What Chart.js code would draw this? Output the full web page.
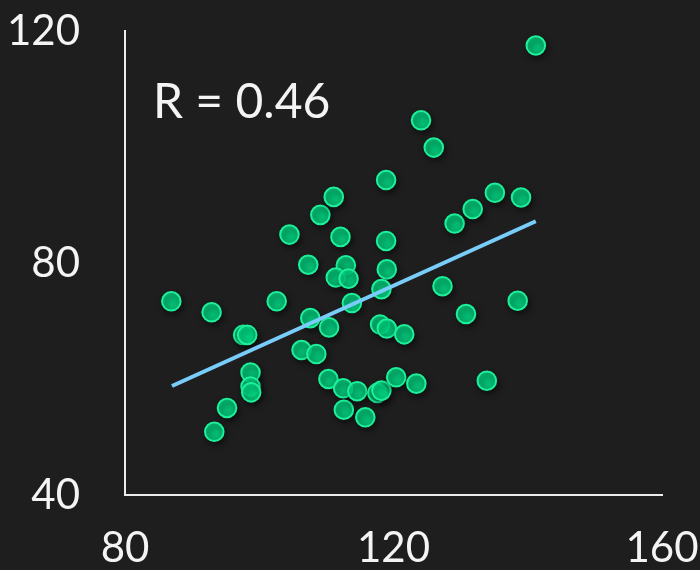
<!DOCTYPE html>
<html>
<head>
<meta charset="utf-8">
<script src="https://cdn.jsdelivr.net/npm/chart.js@4"></script>
<style>
  html, body { margin: 0; padding: 0; background: #1e1e1e; }
  #wrap { width: 700px; height: 570px; }
</style>
</head>
<body>
<div id="wrap"><canvas id="chart" width="700" height="570"></canvas></div>
<script>
// hodnoty
const xValues = [86.9, 92.9, 97.6, 98.2, 98.7, 98.7, 98.8, 95.2, 93.3, 102.6,
                 104.5, 107.3, 107.6, 106.3, 108.5, 109.1, 111.1, 110.4, 110.3, 112.1,
                 112.9, 111.4, 113.3, 113.8, 112.5, 112.6, 114.6, 115.8, 118.0, 119.0,
                 121.6, 118.9, 118.9, 119.0, 118.2, 117.6, 118.2, 120.4, 123.4, 124.1,
                 126.0, 127.3, 129.1, 130.8, 131.8, 133.9, 135.1, 138.5, 139.0, 141.2];
const yValues = [73.4, 71.5, 67.6, 67.6, 61.1, 58.7, 57.7, 55.0, 50.9, 73.4,
                 84.9, 79.7, 70.5, 65.0, 64.3, 88.3, 91.4, 68.9, 60.0, 84.5,
                 79.6, 77.5, 77.3, 73.1, 58.4, 54.7, 57.9, 53.4, 69.4, 68.7,
                 67.7, 94.3, 83.8, 78.9, 75.5, 57.6, 58.0, 60.3, 59.2, 104.6,
                 99.9, 76.0, 86.8, 71.2, 89.3, 59.7, 92.1, 73.5, 91.3, 117.5];

// regresní přímka
const trendX = [87.0, 141.2];
const trendY = [58.8, 87.2];

const xTicks = [80, 120, 160];
const yTicks = [40, 80, 120];
const rLabel = 'R = 0.46';

const FONT = 'Lato, "Open Sans", sans-serif';

const points = xValues.map((x, i) => ({ x, y: yValues[i] }));
const trend = trendX.map((x, i) => ({ x, y: trendY[i] }));

// osy bez automatického odsazení pro popisky
function fixScale(size) {
    return s => {
        if (s.isHorizontal()) s.height = size; else s.width = size;
        s.paddingTop = 0; s.paddingBottom = 0;
        s.paddingLeft = 0; s.paddingRight = 0;
    };
}

// stín pod body
const shadowPlugin = {
    id: 'pointShadow',
    beforeDatasetDraw(chart, args) {
        if (args.index !== 1) return;
        const ctx = chart.ctx;
        ctx.save();
        ctx.shadowColor = 'rgba(0,0,0,0.55)';
        ctx.shadowBlur = 6;
        ctx.shadowOffsetX = 2;
        ctx.shadowOffsetY = 3;
    },
    afterDatasetDraw(chart, args) {
        if (args.index !== 1) return;
        chart.ctx.restore();
    }
};

// popisek R
const rPlugin = {
    id: 'rText',
    afterDraw(chart) {
        const ctx = chart.ctx;
        const a = chart.chartArea;
        ctx.save();
        ctx.fillStyle = '#f4f4f4';
        ctx.font = '48px ' + FONT;
        ctx.textAlign = 'left';
        ctx.textBaseline = 'alphabetic';
        ctx.fillText(rLabel, a.left + 28, a.top + 87);
        ctx.restore();
    }
};

new Chart(document.getElementById('chart'), {
    type: 'scatter',
    data: {
        datasets: [
            {
                type: 'line',
                data: trend,
                borderColor: '#78cdfa',
                borderWidth: 4,
                pointRadius: 0,
                fill: false,
                order: 0
            },
            {
                data: points,
                backgroundColor: 'rgba(0,230,140,0.8)',
                borderColor: '#1cf09a',
                borderWidth: 2,
                pointRadius: 9.3,
                pointHoverRadius: 9.3,
                order: 1
            }
        ]
    },
    options: {
        responsive: false,
        animation: false,
        events: [],
        layout: { padding: { top: 31, right: 38, left: 0, bottom: 0 } },
        plugins: { legend: { display: false }, tooltip: { enabled: false } },
        scales: {
            x: {
                type: 'linear',
                min: xTicks[0],
                max: xTicks[xTicks.length - 1],
                afterBuildTicks: s => { s.ticks = xTicks.map(v => ({ value: v })); },
                afterFit: fixScale(75),
                grid: { display: false, drawTicks: false },
                border: { display: true, color: '#ececec', width: 2 },
                ticks: { color: '#f4f4f4', font: { family: FONT, size: 42 }, padding: 28, maxRotation: 0 }
            },
            y: {
                type: 'linear',
                min: yTicks[0],
                max: yTicks[yTicks.length - 1],
                afterBuildTicks: s => { s.ticks = yTicks.map(v => ({ value: v })); },
                afterFit: fixScale(125),
                grid: { display: false, drawTicks: false },
                border: { display: true, color: '#ececec', width: 2 },
                ticks: { color: '#f4f4f4', font: { family: FONT, size: 42 }, padding: 45 }
            }
        }
    },
    plugins: [shadowPlugin, rPlugin]
});
</script>
</body>
</html>
